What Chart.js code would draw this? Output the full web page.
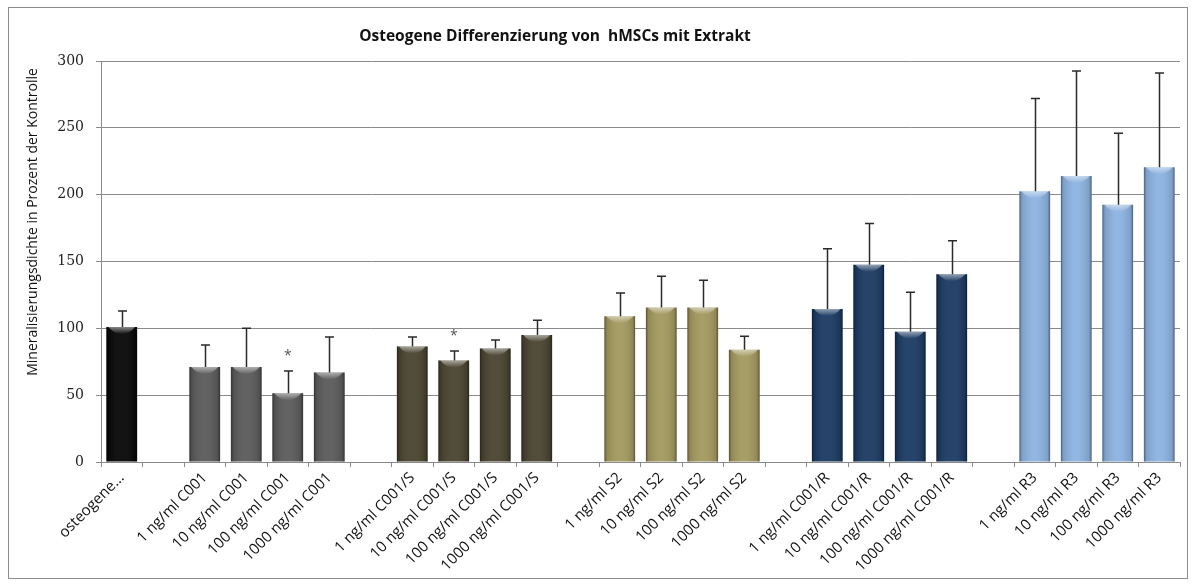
<!DOCTYPE html>
<html>
<head>
<meta charset="utf-8">
<script src="https://cdn.jsdelivr.net/npm/chart.js@4/dist/chart.umd.min.js"></script>
<style>
  html, body { margin: 0; padding: 0; background: #fff; }
  #wrap { width: 1195px; height: 586px; }
</style>
</head>
<body>
<div id="wrap"><canvas id="c" width="1195" height="586"></canvas></div>
<script>
// Mineralisation density (% of control), one entry per category slot; '' slots separate the groups
const categories = [
  'osteogene...', '',
  '1 ng/ml C001', '10 ng/ml C001', '100 ng/ml C001', '1000 ng/ml C001', '',
  '1 ng/ml C001/S', '10 ng/ml C001/S', '100 ng/ml C001/S', '1000 ng/ml C001/S', '',
  '1 ng/ml S2', '10 ng/ml S2', '100 ng/ml S2', '1000 ng/ml S2', '',
  '1 ng/ml C001/R', '10 ng/ml C001/R', '100 ng/ml C001/R', '1000 ng/ml C001/R', '',
  '1 ng/ml R3', '10 ng/ml R3', '100 ng/ml R3', '1000 ng/ml R3'
];
const means = [
  101, null,
  71, 71, 51.5, 67, null,
  86.5, 76, 85, 95, null,
  109, 115.5, 115.5, 84, null,
  114.5, 147.5, 97.5, 140.5, null,
  202.5, 214, 192.5, 220.5
];
// standard deviation, drawn upward only
const errors = [
  12, null,
  16.5, 29, 16.5, 26.5, null,
  7, 7, 6.2, 11, null,
  17.5, 23.5, 20.5, 10, null,
  45, 31, 29.5, 25, null,
  69.5, 78.5, 53.5, 70.5
];
// group index of every slot (-1 = spacer)
const groups = [
  0, -1,
  1, 1, 1, 1, -1,
  2, 2, 2, 2, -1,
  3, 3, 3, 3, -1,
  4, 4, 4, 4, -1,
  5, 5, 5, 5
];
// slots marked as significant
const significant = [4, 8];
const yTicks = [0, 50, 100, 150, 200, 250, 300];

const groupColors = ['#080808', '#5c5c5c', '#4b4531', '#a49a60', '#1d3c65', '#8db4e2'];
const titleText = 'Osteogene Differenzierung von  hMSCs mit Extrakt';
const yTitleText = 'Mineralisierungsdichte in Prozent der Kontrolle';

const frameAndTitles = {
  id: 'frameAndTitles',
  beforeDraw(chart) {
    const ctx = chart.ctx;
    ctx.save();
    ctx.fillStyle = '#fff';
    ctx.fillRect(0, 0, chart.width, chart.height);
    ctx.strokeStyle = '#8c8c8c';
    ctx.lineWidth = 1;
    ctx.strokeRect(8.5, 7.5, 1179, 571);
    ctx.restore();
  },
  afterDraw(chart) {
    const ctx = chart.ctx;
    ctx.save();
    ctx.fillStyle = '#111';
    ctx.font = 'bold 15.5px "Open Sans"';
    ctx.textAlign = 'center';
    ctx.textBaseline = 'middle';
    ctx.fillText(titleText, 555, 37);
    ctx.translate(33, 222);
    ctx.rotate(-Math.PI / 2);
    ctx.font = '14px "Open Sans"';
    ctx.fillText(yTitleText, 0, 0);
    ctx.restore();
  }
};

const barDecor = {
  id: 'barDecor',
  afterDatasetsDraw(chart) {
    const ctx = chart.ctx;
    const meta = chart.getDatasetMeta(0);
    const y = chart.scales.y;
    ctx.save();
    meta.data.forEach((bar, i) => {
      if (means[i] == null) return;
      const { x, y: top, base, width } = bar.getProps(['x', 'y', 'base', 'width'], true);
      const l = x - width / 2, r = x + width / 2;
      // side shading
      const g = ctx.createLinearGradient(l, 0, r, 0);
      g.addColorStop(0, 'rgba(0,0,0,0.45)');
      g.addColorStop(0.08, 'rgba(0,0,0,0.12)');
      g.addColorStop(0.5, 'rgba(255,255,255,0.04)');
      g.addColorStop(0.92, 'rgba(0,0,0,0.12)');
      g.addColorStop(1, 'rgba(0,0,0,0.45)');
      ctx.fillStyle = g;
      ctx.fillRect(l, top, width, base - top);
      // top bevel highlight
      const bh = 7;
      const vg = ctx.createLinearGradient(0, top, 0, top + bh);
      vg.addColorStop(0, 'rgba(255,255,255,0.5)');
      vg.addColorStop(1, 'rgba(255,255,255,0)');
      ctx.fillStyle = vg;
      ctx.beginPath();
      ctx.moveTo(l + 2, top);
      ctx.lineTo(r - 2, top);
      ctx.quadraticCurveTo(x + width * 0.25, top + bh, x, top + bh);
      ctx.quadraticCurveTo(x - width * 0.25, top + bh, l + 2, top);
      ctx.closePath();
      ctx.fill();
    });
    // error bars (upper)
    ctx.strokeStyle = '#2a2a2a';
    ctx.lineWidth = 1.5;
    meta.data.forEach((bar, i) => {
      if (means[i] == null || errors[i] == null) return;
      const x = Math.round(bar.x) + 0.5;
      const yTop = y.getPixelForValue(means[i] + errors[i]);
      const yBar = y.getPixelForValue(means[i]);
      ctx.beginPath();
      ctx.moveTo(x, yBar);
      ctx.lineTo(x, yTop);
      ctx.moveTo(x - 4.5, yTop);
      ctx.lineTo(x + 4.5, yTop);
      ctx.stroke();
    });
    // significance marks
    ctx.fillStyle = '#555';
    ctx.font = '14px "Open Sans"';
    ctx.textAlign = 'center';
    ctx.textBaseline = 'middle';
    significant.forEach(i => {
      const bar = meta.data[i];
      const yTop = y.getPixelForValue(means[i] + errors[i]);
      ctx.fillText('*', bar.x, yTop - 15);
    });
    ctx.restore();
  }
};

new Chart(document.getElementById('c'), {
  type: 'bar',
  data: {
    labels: categories,
    datasets: [{
      data: means,
      backgroundColor: groups.map(g => g < 0 ? 'rgba(0,0,0,0)' : groupColors[g]),
      borderWidth: 0,
      barPercentage: 0.74,
      categoryPercentage: 1.0
    }]
  },
  options: {
    responsive: false,
    animation: false,
    devicePixelRatio: 1,
    layout: { padding: { left: 0, right: 15, top: 61, bottom: 0 } },
    plugins: {
      legend: { display: false },
      title: { display: false },
      tooltip: { enabled: false }
    },
    scales: {
      x: {
        offset: true,
        grid: { display: true, drawOnChartArea: false, drawTicks: true, tickLength: 5, color: '#8a8a8a' },
        border: { color: '#8a8a8a' },
        ticks: {
          autoSkip: false,
          maxRotation: 45,
          minRotation: 45,
          padding: 2,
          color: '#111',
          font: { family: '"Open Sans"', size: 15 }
        },
        afterFit(scale) { scale.height = 124; }
      },
      y: {
        min: 0,
        max: 300,
        afterBuildTicks(scale) { scale.ticks = yTicks.map(v => ({ value: v })); },
        grid: { color: '#8a8a8a', tickLength: 5, drawTicks: true },
        border: { color: '#8a8a8a' },
        ticks: {
          padding: 12,
          color: '#222',
          font: { family: '"DejaVu Serif"', size: 14 }
        },
        afterFit(scale) { scale.width = 101; }
      }
    }
  },
  plugins: [frameAndTitles, barDecor]
});
</script>
</body>
</html>
